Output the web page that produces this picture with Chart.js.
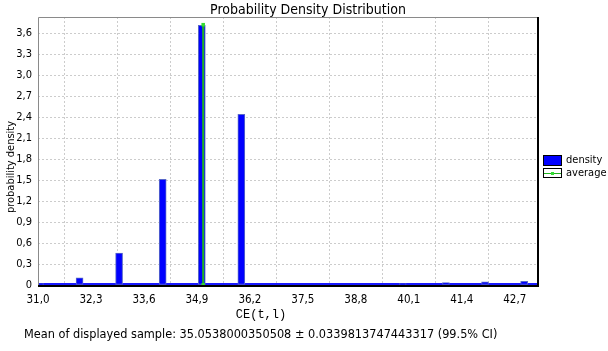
<!DOCTYPE html>
<html>
<head>
<meta charset="utf-8">
<script src="https://cdn.jsdelivr.net/npm/chart.js@4"></script>
<style>
  html, body { margin: 0; padding: 0; background: #fff; }
  #wrap { width: 608px; height: 351px; }
</style>
</head>
<body>
<div id="wrap"><canvas id="densityChart" width="608" height="351"></canvas></div>
<script>
// histogram bins (CE(t,l)) and their probability density
const binCenters = [31.05, 32.02, 32.99, 34.06, 35.02, 35.99, 39.95, 41.01, 41.97, 42.93];
const densities  = [0.02, 0.104, 0.457, 1.51, 3.71, 2.44, 0.02, 0.033, 0.047, 0.053];

// sample mean, drawn as vertical line
const meanValue = 35.0538000350508;
const meanCI = 0.0339813747443317;
const avgLineY = [0, 3.72];

const xTicks = [31.0, 32.3, 33.6, 34.9, 36.2, 37.5, 38.8, 40.1, 41.4, 42.7];
const yTicks = [0, 0.3, 0.6, 0.9, 1.2, 1.5, 1.8, 2.1, 2.4, 2.7, 3.0, 3.3, 3.6];

const FONT = '"DejaVu Sans Condensed", "DejaVu Sans", sans-serif';

function fmt(v) {
    return v === 0 ? '0' : v.toFixed(1).replace('.', ',');
}

// title, axis titles, frame, baseline, legend and footer
const decorations = {
    id: 'decorations',
    beforeDatasetsDraw(chart) {
        const ctx = chart.ctx;
        const a = chart.chartArea;
        const y0 = chart.scales.y.getPixelForValue(0);
        ctx.save();
        ctx.strokeStyle = '#1a1aff';
        ctx.lineWidth = 2;
        ctx.beginPath();
        ctx.moveTo(a.left, y0 - 1);
        ctx.lineTo(a.right, y0 - 1);
        ctx.stroke();
        ctx.restore();
    },
    afterDraw(chart) {
        const ctx = chart.ctx;
        const a = chart.chartArea;
        ctx.save();

        // frame: grey top/left, black right/bottom
        ctx.lineWidth = 1;
        ctx.strokeStyle = '#8a8a8a';
        ctx.beginPath();
        ctx.moveTo(a.left + 0.5, a.bottom);
        ctx.lineTo(a.left + 0.5, a.top + 0.5);
        ctx.lineTo(a.right, a.top + 0.5);
        ctx.stroke();
        ctx.lineWidth = 2;
        ctx.strokeStyle = '#000';
        ctx.beginPath();
        ctx.moveTo(a.right, a.top);
        ctx.lineTo(a.right, a.bottom + 1);
        ctx.lineTo(a.left, a.bottom + 1);
        ctx.stroke();

        ctx.fillStyle = '#000';
        ctx.textBaseline = 'middle';

        // title
        ctx.font = '14px ' + FONT;
        ctx.textAlign = 'center';
        ctx.fillText('Probability Density Distribution', 308, 10);

        // y title
        ctx.save();
        ctx.translate(11, 167);
        ctx.rotate(-Math.PI / 2);
        ctx.font = '11px ' + FONT;
        ctx.fillText('probability density', 0, 0);
        ctx.restore();

        // x title
        ctx.font = '12px "Liberation Mono", "DejaVu Sans Mono", monospace';
        ctx.fillText('CE(t,l)', 261, 315);

        // footer
        ctx.font = '12.6px ' + FONT;
        ctx.textAlign = 'left';
        ctx.fillText('Mean of displayed sample: ' + meanValue + ' \u00b1 ' + meanCI + ' (99.5% CI)', 24, 335);

        // legend
        const lx = 543;
        ctx.fillStyle = '#0000ff';
        ctx.fillRect(lx, 155, 19, 11);
        ctx.strokeStyle = '#000';
        ctx.lineWidth = 1;
        ctx.strokeRect(lx + 0.5, 155.5, 18, 10);
        ctx.fillStyle = '#fff';
        ctx.fillRect(lx, 168, 19, 10);
        ctx.strokeRect(lx + 0.5, 168.5, 18, 9);
        ctx.strokeStyle = '#1fb51f';
        ctx.beginPath();
        ctx.moveTo(lx + 1, 173.5);
        ctx.lineTo(lx + 18, 173.5);
        ctx.stroke();
        ctx.fillStyle = '#33dd33';
        ctx.fillRect(lx + 8, 172, 3, 3);

        ctx.fillStyle = '#000';
        ctx.font = '11px ' + FONT;
        ctx.fillText('density', 566, 160);
        ctx.fillText('average', 566, 173);
        ctx.restore();
    }
};

document.addEventListener('DOMContentLoaded', function() {
    const ctx = document.getElementById('densityChart').getContext('2d');

    const densityData = binCenters.map((x, i) => ({ x: x, y: densities[i] }));
    const averageData = avgLineY.map(y => ({ x: meanValue, y: y }));

    new Chart(ctx, {
        type: 'bar',
        data: {
            datasets: [
                {
                    label: 'density',
                    data: densityData,
                    backgroundColor: '#0000ff',
                    borderColor: '#5868c8',
                    borderWidth: 1,
                    borderSkipped: false,
                    barThickness: 7,
                    order: 2
                },
                {
                    type: 'line',
                    label: 'average',
                    data: averageData,
                    borderColor: '#1fb51f',
                    borderWidth: 2,
                    pointStyle: 'rect',
                    pointRadius: 2.5,
                    pointBackgroundColor: '#33dd33',
                    pointBorderWidth: 0,
                    order: 1
                }
            ]
        },
        options: {
            responsive: false,
            animation: false,
            layout: { padding: { top: 17, right: 70, left: 0, bottom: 0 } },
            plugins: {
                legend: { display: false },
                title: { display: false },
                tooltip: { enabled: false }
            },
            scales: {
                x: {
                    type: 'linear',
                    min: 31.0,
                    max: 43.27,
                    offset: false,
                    afterBuildTicks: s => { s.ticks = xTicks.map(v => ({ value: v })); },
                    afterFit: s => { s.height = 66; },
                    ticks: {
                        autoSkip: false,
                        maxRotation: 0,
                        padding: 8,
                        color: '#000',
                        font: { size: 11.5, family: FONT },
                        callback: v => fmt(v)
                    },
                    grid: {
                        drawTicks: false,
                        color: c => c.index === 0 ? 'rgba(0,0,0,0)' : '#cccccc',
                        lineWidth: 1
                    },
                    border: { display: false, dash: [2, 2] }
                },
                y: {
                    min: 0,
                    max: 3.83,
                    afterBuildTicks: s => { s.ticks = yTicks.map(v => ({ value: v })); },
                    afterFit: s => { s.width = 38; },
                    ticks: {
                        padding: 6,
                        color: '#000',
                        font: { size: 11, family: FONT },
                        callback: v => fmt(v)
                    },
                    grid: {
                        drawTicks: false,
                        color: c => c.index === 0 ? 'rgba(0,0,0,0)' : '#cccccc',
                        lineWidth: 1
                    },
                    border: { display: false, dash: [2, 2] }
                }
            }
        },
        plugins: [decorations]
    });
});
</script>
</body>
</html>
